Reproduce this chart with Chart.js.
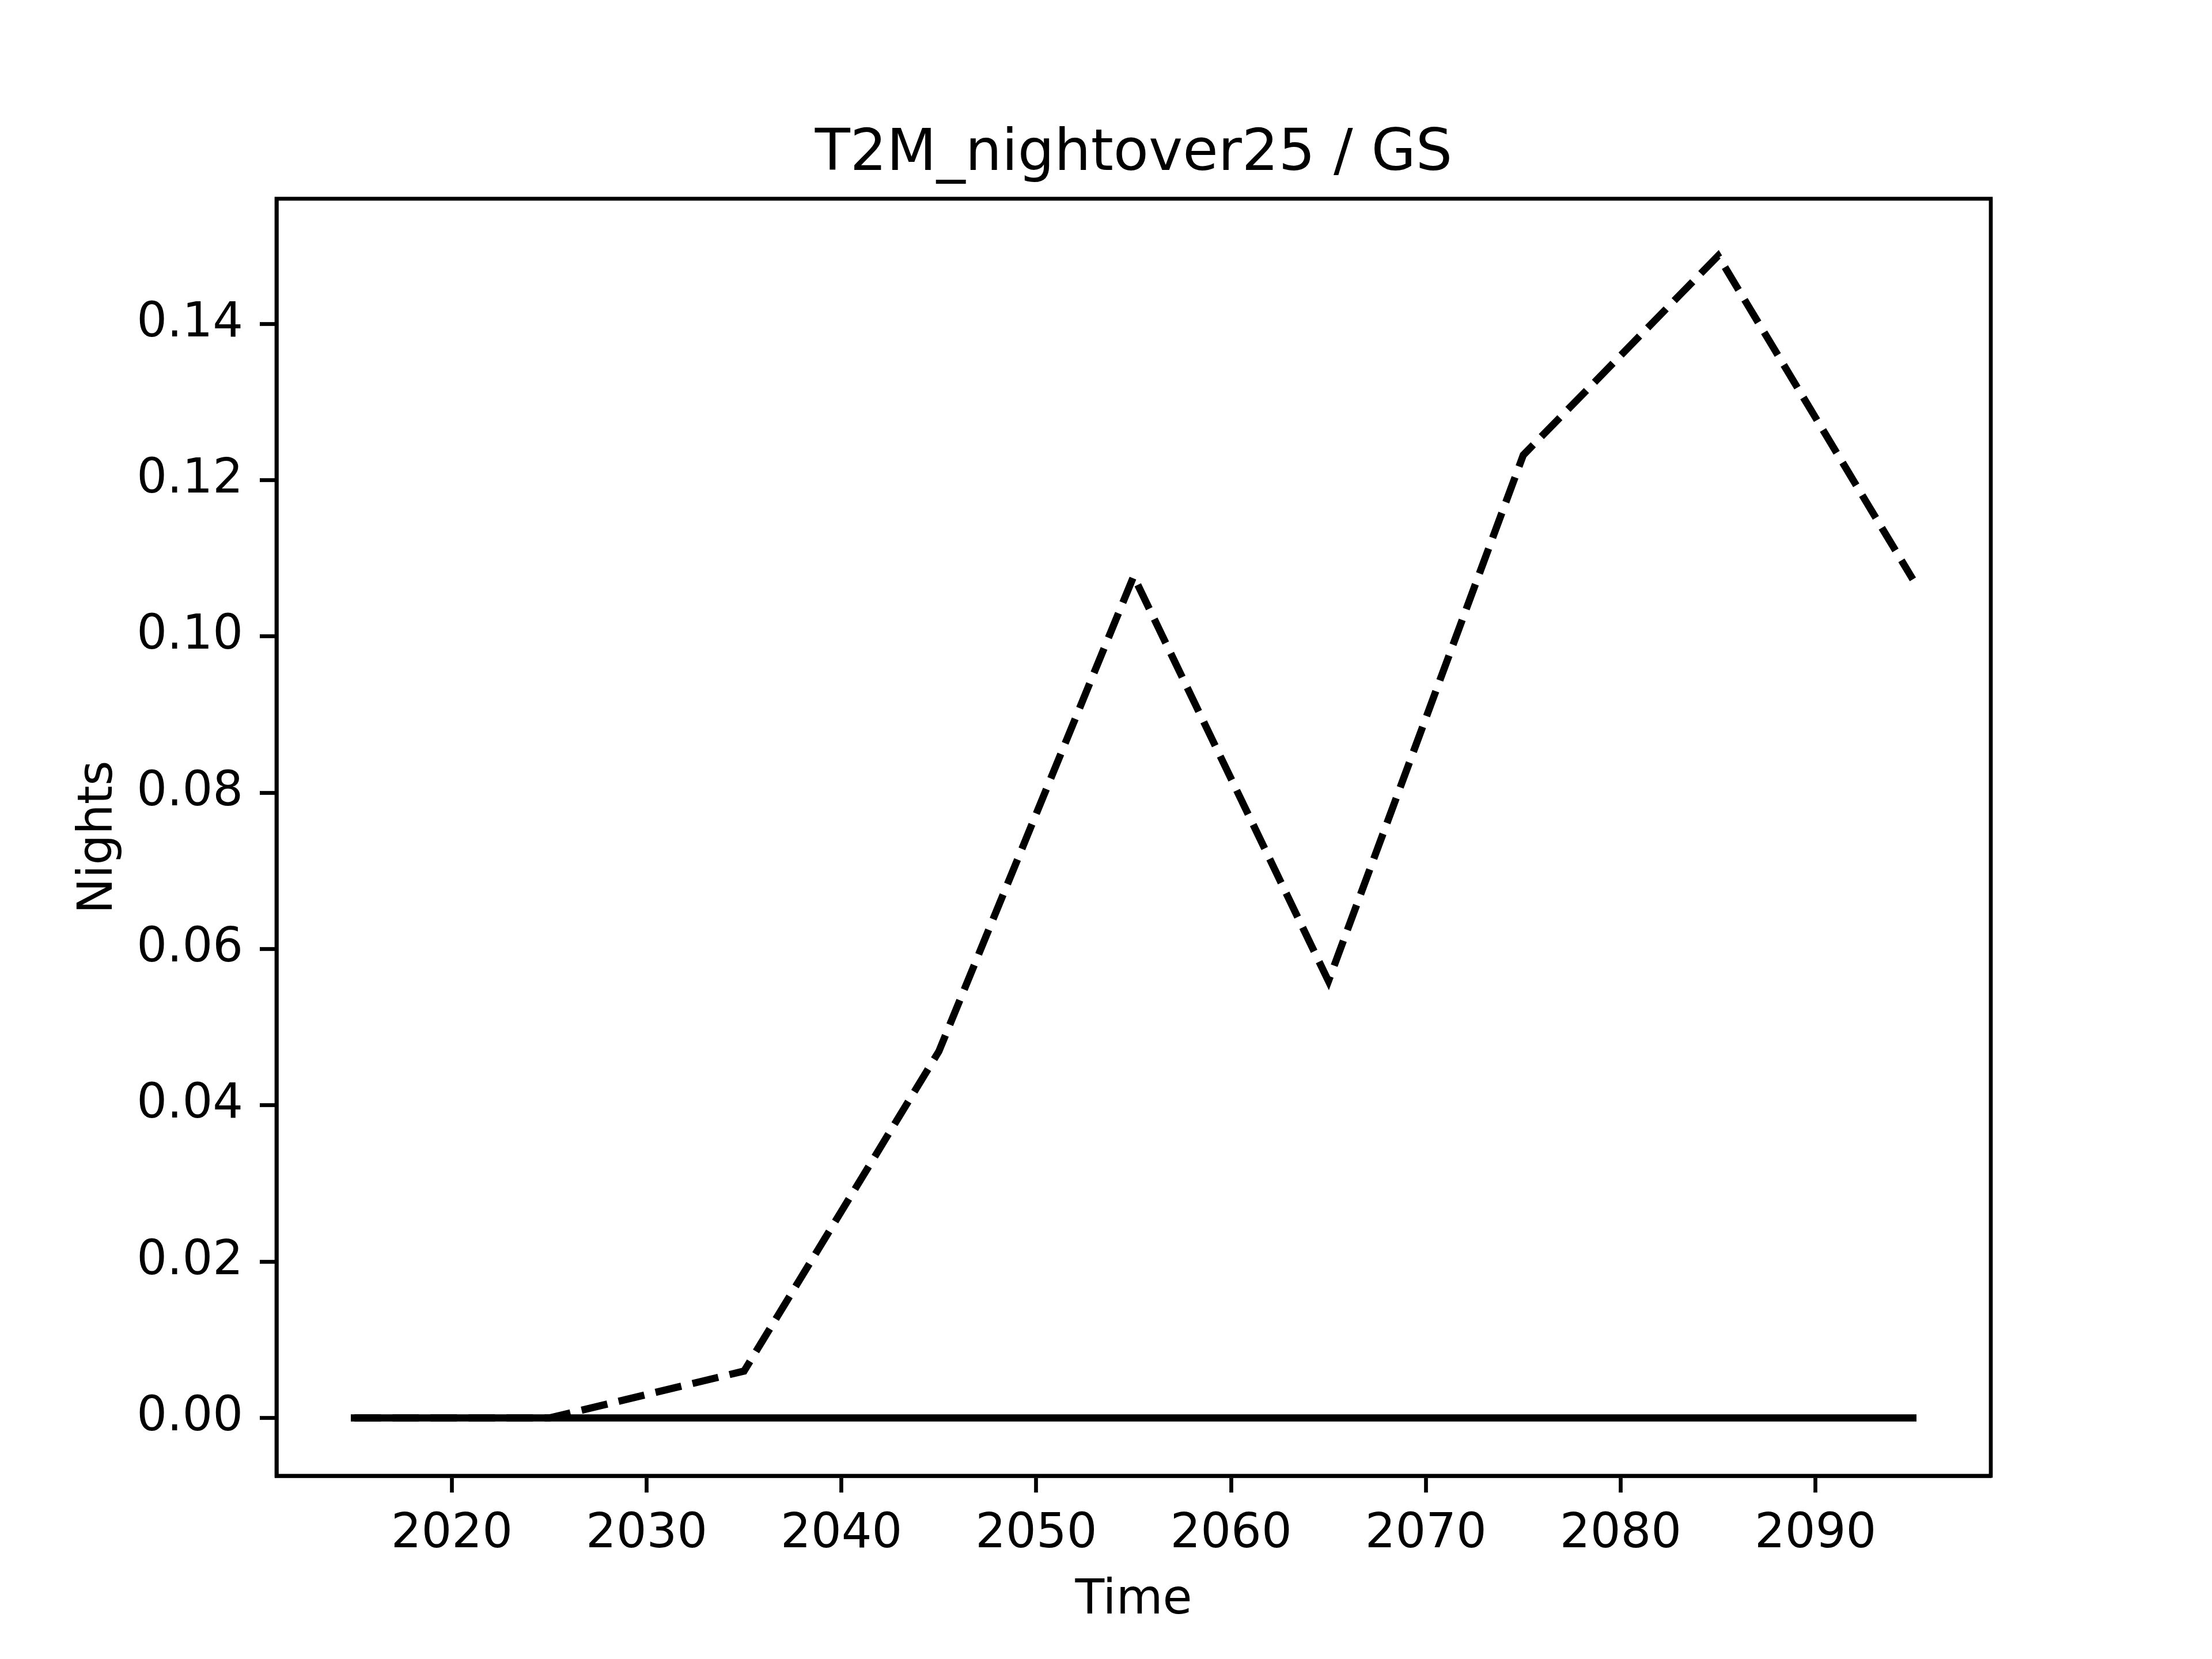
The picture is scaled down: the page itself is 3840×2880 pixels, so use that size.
<!DOCTYPE html>
<html>
<head>
<meta charset="utf-8">
<title>T2M_nightover25 / GS</title>
<script src="https://cdn.jsdelivr.net/npm/chart.js@4/dist/chart.umd.min.js"></script>
<style>
  html, body { margin: 0; padding: 0; background: #ffffff; }
  #wrap { width: 3840px; height: 2880px; }
</style>
</head>
<body>
<div id="wrap"><canvas id="chart" width="3840" height="2880"></canvas></div>
<script>
// Data
const years = [2015, 2025, 2035, 2045, 2055, 2065, 2075, 2085, 2095];
const dashedValues = [0.0, 0.0, 0.006, 0.0469, 0.1077, 0.0559, 0.1232, 0.1487, 0.1073];
const solidValues = [0, 0, 0, 0, 0, 0, 0, 0, 0];
const xTicks = [2020, 2030, 2040, 2050, 2060, 2070, 2080, 2090];
const yTicks = [0.00, 0.02, 0.04, 0.06, 0.08, 0.10, 0.12, 0.14];

const chartTitle = "T2M_nightover25 / GS";
const xTitle = "Time";
const yTitle = "Nights";

const FONT = "'DejaVu Sans', sans-serif";

// outer frame of the axes + title on top
const framePlugin = {
    id: "frame",
    afterDraw(chart) {
        const a = chart.chartArea;
        const ctx = chart.ctx;
        ctx.save();
        ctx.strokeStyle = "#000";
        ctx.lineWidth = 6.7;
        ctx.lineJoin = "miter";
        ctx.strokeRect(a.left, a.top, a.right - a.left, a.bottom - a.top);
        ctx.fillStyle = "#000";
        ctx.font = "100px " + FONT;
        ctx.textAlign = "center";
        ctx.textBaseline = "alphabetic";
        ctx.fillText(chartTitle, (a.left + a.right) / 2, a.top - 50);
        ctx.restore();
    }
};

const toPoints = (vals) => vals.map((v, i) => ({ x: years[i], y: v }));

new Chart(document.getElementById("chart"), {
    type: "line",
    data: {
        datasets: [
            {
                label: "solid",
                data: toPoints(solidValues),
                borderColor: "#000",
                borderWidth: 12.5,
                borderCapStyle: "square",
                pointRadius: 0,
                tension: 0,
                fill: false
            },
            {
                label: "dashed",
                data: toPoints(dashedValues),
                borderColor: "#000",
                borderWidth: 12.5,
                borderDash: [46, 20],
                borderCapStyle: "butt",
                pointRadius: 0,
                tension: 0,
                fill: false
            }
        ]
    },
    options: {
        responsive: false,
        devicePixelRatio: 1,
        animation: false,
        layout: { padding: { top: 345, right: 384, left: 0, bottom: 0 } },
        plugins: {
            legend: { display: false },
            title: { display: false },
            tooltip: { enabled: false }
        },
        scales: {
            x: {
                type: "linear",
                min: 2011,
                max: 2099,
                afterBuildTicks: (s) => { s.ticks = xTicks.map(v => ({ value: v })); },
                afterFit: (s) => { s.height = 318; },
                ticks: {
                    color: "#000",
                    font: { family: FONT, size: 83 },
                    padding: 24,
                    maxRotation: 0,
                    autoSkip: false,
                    callback: (v) => String(v)
                },
                grid: {
                    display: true,
                    drawOnChartArea: false,
                    drawTicks: true,
                    tickLength: 29,
                    tickWidth: 6.7,
                    tickColor: "#000"
                },
                border: { display: true, color: "#000", width: 6.7 },
                title: {
                    display: true,
                    text: xTitle,
                    color: "#000",
                    font: { family: FONT, size: 83 },
                    padding: { top: 0, bottom: 51 }
                }
            },
            y: {
                type: "linear",
                min: -0.0074,
                max: 0.1560,
                afterBuildTicks: (s) => { s.ticks = yTicks.map(v => ({ value: v })); },
                afterFit: (s) => { s.width = 480; },
                ticks: {
                    color: "#000",
                    font: { family: FONT, size: 83 },
                    padding: 29,
                    autoSkip: false,
                    callback: (v) => Number(v).toFixed(2)
                },
                grid: {
                    display: true,
                    drawOnChartArea: false,
                    drawTicks: true,
                    tickLength: 29,
                    tickWidth: 6.7,
                    tickColor: "#000"
                },
                border: { display: true, color: "#000", width: 6.7 },
                title: {
                    display: true,
                    text: yTitle,
                    color: "#000",
                    font: { family: FONT, size: 83 },
                    padding: { top: 123, bottom: 0 }
                }
            }
        }
    },
    plugins: [framePlugin]
});
</script>
</body>
</html>
